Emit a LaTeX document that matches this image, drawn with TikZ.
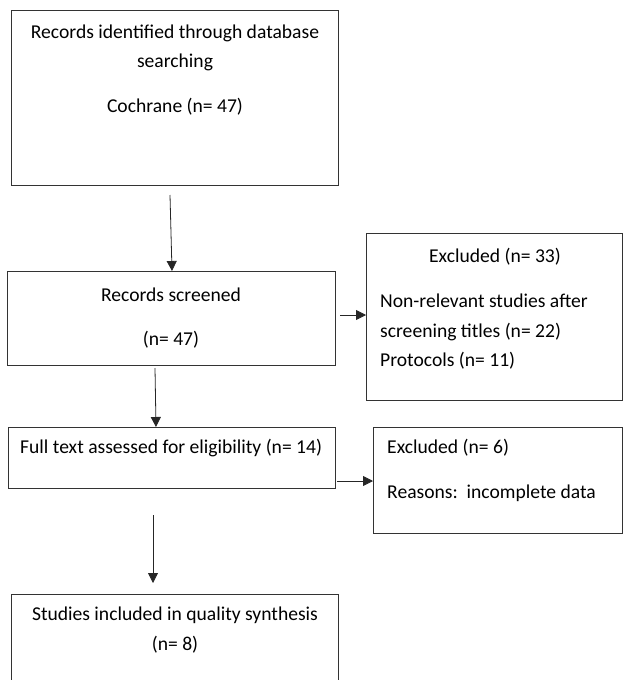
\documentclass[tikz,border=0pt]{standalone}
\usepackage{fontspec}
\setmainfont{Carlito}
\usetikzlibrary{arrows.meta}
\begin{document}
\begin{tikzpicture}[x=1pt,y=-1pt,
  box/.style={draw=black!80, line width=0.9pt, inner sep=0pt, anchor=north west},
  txt/.style={inner sep=0pt, font=\fontsize{19.6}{22}\selectfont, text=black},
  lt/.style={txt, anchor=west},
  conn/.style={draw=black!85, line width=0.8pt, -{Triangle[length=10pt,width=10pt]}}]
\useasboundingbox (0,0) rectangle (625,680);
% boxes
\node[box, minimum width=327pt, minimum height=175pt] (b1) at (11,10) {};
\node[box, minimum width=328pt, minimum height=94pt] (b2) at (7,271) {};
\node[box, minimum width=256pt, minimum height=167pt] (b3) at (366,233) {};
\node[box, minimum width=327pt, minimum height=61pt] (b4) at (8,427) {};
\node[box, minimum width=249pt, minimum height=106pt] (b5) at (373,427) {};
\node[box, minimum width=327pt, minimum height=100pt] (b6) at (11,594) {};
% texts
\node[txt] (t1a) at (175,33) {Records identified through database};
\node[txt] (t1b) at (175,62) {searching};
\node[txt] (t1c) at (175,107) {Cochrane (n= 47)};
\node[txt] (t2a) at (171,295) {Records screened};
\node[txt] (t2b) at (171,340) {(n= 47)};
\node[txt] (t3a) at (495,257) {Excluded (n= 33)};
\node[lt] (t3b) at (380,301) {Non-relevant studies after};
\node[lt] (t3c) at (380,332) {screening titles (n= 22)};
\node[lt] (t3d) at (380,361) {Protocols (n= 11)};
\node[lt] (t4a) at (20,448) {Full text assessed for eligibility (n= 14)};
\node[lt] (t5a) at (387,448) {Excluded (n= 6)};
\node[lt] (t5b) at (387,493) {Reasons:\ \ incomplete data};
\node[txt] (t6a) at (175,615) {Studies included in quality synthesis};
\node[txt] (t6b) at (175,645) {(n= 8)};
% connector ends
\coordinate (a1s) at (170,195);
\coordinate (a1e) at (172,271);
\coordinate (a2s) at (340,315);
\coordinate (a2e) at (366,315);
\coordinate (a3s) at (155,368);
\coordinate (a3e) at (156,427);
\coordinate (a4s) at (337,481);
\coordinate (a4e) at (373,481);
\coordinate (a5s) at (153,515);
\coordinate (a5e) at (153,583);
\draw[conn] (a1s) -- (a1e);
\draw[conn] (a2s) -- (a2e);
\draw[conn] (a3s) -- (a3e);
\draw[conn] (a4s) -- (a4e);
\draw[conn] (a5s) -- (a5e);
\end{tikzpicture}
\end{document}
